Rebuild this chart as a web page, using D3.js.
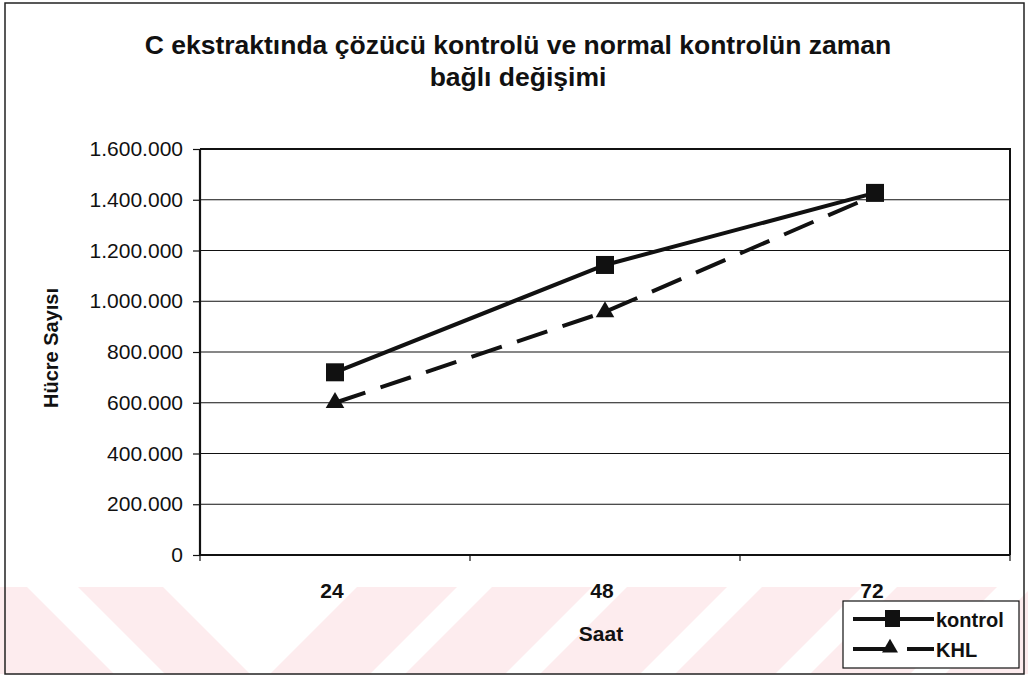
<!DOCTYPE html>
<html>
<head>
<meta charset="utf-8">
<script src="https://cdn.jsdelivr.net/npm/d3@7"></script>
<style>
  html, body { margin: 0; padding: 0; background: #fff; }
  svg { display: block; }
  text { font-family: "Liberation Sans", Arial, sans-serif; fill: #111; }
</style>
</head>
<body>
<svg id="chart" width="1028" height="677"></svg>
<script>
// ---- data ----
const titleLines = ["C ekstraktında çözücü kontrolü ve normal kontrolün zaman", "bağlı değişimi"];
const categories = ["24", "48", "72"];
const kontrol = [720000, 1143000, 1427000];
const khl = [600000, 958000, 1418000];
const yTicks = [0, 200000, 400000, 600000, 800000, 1000000, 1200000, 1400000, 1600000];
const xTitle = "Saat";
const yTitle = "Hücre Sayısı";
const seriesNames = ["kontrol", "KHL"];

// ---- layout ----
const plot = { left: 200, right: 1010, top: 149, bottom: 555 };
const svg = d3.select("#chart");

// watermark (faint diagonal stripes of the scanned page)
const wm = svg.append("g");
const wy0 = 587, wy1 = 674, sh = 87;
const pink = "#fdecee";
[[-120, 27], [78, 163]].forEach(([a, b]) => {
  wm.append("polygon")
    .attr("points", [[a, wy0], [b, wy0], [b + sh, wy1], [a + sh, wy1]].map(p => p.join(",")).join(" "))
    .attr("fill", pink);
});
for (let i = 0; i < 6; i++) {
  const a = 270 + i * 135, b = a + 100;
  wm.append("polygon")
    .attr("points", [[a, wy1], [b, wy1], [b + sh, wy0], [a + sh, wy0]].map(p => p.join(",")).join(" "))
    .attr("fill", pink);
}

// outer frame
svg.append("rect").attr("x", 5).attr("y", 3).attr("width", 1019).attr("height", 671)
  .attr("fill", "none").attr("stroke", "#222").attr("stroke-width", 1.5);

// title
svg.append("g").selectAll("text").data(titleLines).join("text")
  .attr("x", 518).attr("y", (d, i) => 54 + i * 32)
  .attr("text-anchor", "middle")
  .attr("font-size", 26.5).attr("font-weight", "bold")
  .text(d => d);

// scales
const x = d3.scaleBand().domain(categories).range([plot.left, plot.right]);
const y = d3.scaleLinear().domain([0, 1600000]).range([plot.bottom, plot.top]);
const loc = d3.formatLocale({ decimal: ",", thousands: ".", grouping: [3], currency: ["", ""] });
const fmt = loc.format(",");

// gridlines
svg.append("g").selectAll("line").data(yTicks.filter(d => d > 0)).join("line")
  .attr("x1", plot.left).attr("x2", plot.right)
  .attr("y1", d => y(d)).attr("y2", d => y(d))
  .attr("stroke", "#111").attr("stroke-width", 1.2);

// plot border (top & right)
svg.append("path")
  .attr("d", `M${plot.left},${plot.top}H${plot.right}V${plot.bottom}`)
  .attr("fill", "none").attr("stroke", "#111").attr("stroke-width", 2);

// y axis
const yAxis = svg.append("g").attr("transform", `translate(${plot.left},0)`)
  .call(d3.axisLeft(y).tickValues(yTicks).tickFormat(fmt).tickSize(7).tickPadding(10));
yAxis.select(".domain").attr("stroke", "#111").attr("stroke-width", 2.2).attr("d", `M0,${plot.top}V${plot.bottom}`);
yAxis.selectAll(".tick line").attr("stroke", "#111").attr("stroke-width", 1.2);
yAxis.selectAll(".tick text").attr("font-size", 21).attr("font-family", "Liberation Sans, Arial, sans-serif").attr("fill", "#111");

// x axis
const xAxis = svg.append("g").attr("transform", `translate(0,${plot.bottom})`);
xAxis.append("line").attr("x1", plot.left).attr("x2", plot.right).attr("y1", 0).attr("y2", 0)
  .attr("stroke", "#111").attr("stroke-width", 2.2);
const bounds = categories.map(c => x(c)).concat([x(categories[categories.length - 1]) + x.bandwidth()]);
xAxis.selectAll("line.tk").data(bounds).join("line").attr("class", "tk")
  .attr("x1", d => d).attr("x2", d => d).attr("y1", 0).attr("y2", 6)
  .attr("stroke", "#111").attr("stroke-width", 1.2);

// legend box (drawn before the category labels so "72" sits on top)
const lg = svg.append("g");
lg.append("rect").attr("x", 843).attr("y", 601).attr("width", 176).attr("height", 67)
  .attr("fill", "#fff").attr("stroke", "#111").attr("stroke-width", 1.2);
lg.append("line").attr("x1", 853).attr("x2", 934).attr("y1", 619).attr("y2", 619)
  .attr("stroke", "#111").attr("stroke-width", 4);
lg.append("rect").attr("x", 885).attr("y", 610).attr("width", 15).attr("height", 17).attr("fill", "#111");
lg.append("text").attr("x", 936).attr("y", 627).attr("font-size", 20).attr("font-weight", "bold").text(seriesNames[0]);
lg.append("line").attr("x1", 853).attr("x2", 934).attr("y1", 649).attr("y2", 649)
  .attr("stroke", "#111").attr("stroke-width", 4).attr("stroke-dasharray", "40,14,27");
lg.append("path").attr("transform", "translate(890,648)").attr("d", d3.symbol().type(d3.symbolTriangle).size(110)).attr("fill", "#111");
lg.append("text").attr("x", 936).attr("y", 657).attr("font-size", 20).attr("font-weight", "bold").text(seriesNames[1]);

svg.append("g").selectAll("text").data(categories).join("text")
  .attr("x", d => x(d) + x.bandwidth() / 2 - 3).attr("y", plot.bottom + 43)
  .attr("text-anchor", "middle").attr("font-size", 21).attr("font-weight", "bold")
  .text(d => d);

// axis titles
svg.append("text").attr("x", 601).attr("y", 641).attr("text-anchor", "middle")
  .attr("font-size", 21).attr("font-weight", "bold").text(xTitle);
svg.append("text").attr("transform", "translate(58,348) rotate(-90)").attr("text-anchor", "middle")
  .attr("font-size", 20).attr("font-weight", "bold").text(yTitle);

// series
const cx = d => x(d) + x.bandwidth() / 2;
const line = d3.line().x((d, i) => cx(categories[i])).y(d => y(d));
svg.append("path").datum(khl).attr("d", line).attr("fill", "none")
  .attr("stroke", "#111").attr("stroke-width", 4).attr("stroke-dasharray", "32,16");
svg.append("path").datum(kontrol).attr("d", line).attr("fill", "none")
  .attr("stroke", "#111").attr("stroke-width", 4);

const tri = d3.symbol().type(d3.symbolTriangle).size(150);
svg.append("g").selectAll("path").data(khl).join("path")
  .attr("transform", (d, i) => `translate(${cx(categories[i])},${y(d)})`)
  .attr("d", tri).attr("fill", "#111");
svg.append("g").selectAll("rect").data(kontrol).join("rect")
  .attr("x", (d, i) => cx(categories[i]) - 9).attr("y", d => y(d) - 9)
  .attr("width", 18).attr("height", 18).attr("fill", "#111");
</script>
</body>
</html>
